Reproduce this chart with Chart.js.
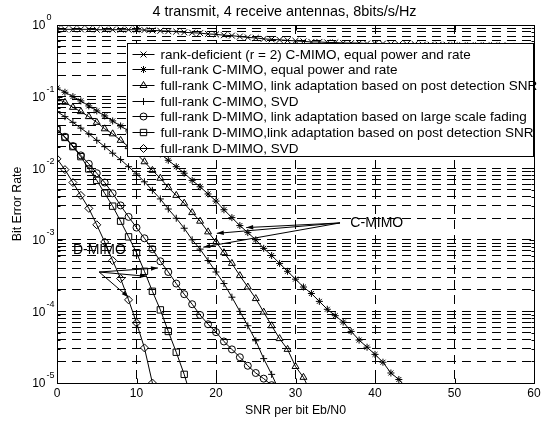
<!DOCTYPE html>
<html>
<head>
<meta charset="utf-8">
<script src="https://cdn.jsdelivr.net/npm/chart.js@4.4.1/dist/chart.umd.min.js"></script>
<style>
  html, body { margin: 0; padding: 0; background: #fff; }
  canvas { display: block; }
</style>
</head>
<body>
<canvas id="chart" width="547" height="421"></canvas>
<script>
// SNR grid (dB), one simulated point per dB
const snrDb = [0, 1, 2, 3, 4, 5, 6, 7, 8, 9, 10, 11, 12, 13, 14, 15, 16, 17, 18, 19, 20,
  21, 22, 23, 24, 25, 26, 27, 28, 29, 30, 31, 32, 33, 34, 35, 36, 37, 38, 39, 40,
  41, 42, 43, 44, 45, 46, 47, 48, 49, 50, 51, 52, 53, 54, 55, 56, 57, 58, 59, 60];

// BER, indexed like snrDb
const berRankDeficient = [0.87, 0.87, 0.87, 0.87, 0.87, 0.86, 0.86, 0.86, 0.86, 0.86,
  0.86, 0.85, 0.84, 0.83, 0.82, 0.81, 0.79, 0.78, 0.77, 0.75,
  0.74, 0.72, 0.71, 0.69, 0.67, 0.66, 0.64, 0.63, 0.62, 0.61,
  0.60, 0.59, 0.58, 0.58, 0.57, 0.57, 0.56, 0.56, 0.56, 0.55,
  0.55, 0.55, 0.54, 0.54, 0.54, 0.54, 0.53, 0.53, 0.53, 0.53,
  0.52, 0.52, 0.52, 0.52, 0.52, 0.52, 0.52, 0.51, 0.51, 0.51, 0.51];
const berCEqual = [1.32e-1, 1.15e-1, 1.0e-1, 8.71e-2, 7.41e-2, 6.31e-2, 5.37e-2, 4.57e-2, 3.89e-2, 3.31e-2,
  2.82e-2, 2.34e-2, 1.95e-2, 1.58e-2, 1.29e-2, 1.05e-2, 8.51e-3, 6.76e-3, 5.50e-3, 4.37e-3,
  3.47e-3, 2.63e-3, 2.04e-3, 1.58e-3, 1.26e-3, 1.0e-3, 7.59e-4, 6.03e-4, 4.68e-4, 3.63e-4,
  2.82e-4, 2.19e-4, 1.78e-4, 1.38e-4, 1.07e-4, 8.71e-5, 7.08e-5, 5.25e-5, 3.98e-5, 3.16e-5,
  2.51e-5, 1.95e-5, 1.38e-5, 1.12e-5, 8.51e-6];
const berCPostDet = [9.33e-2, 8.32e-2, 7.08e-2, 6.17e-2, 5.25e-2, 4.37e-2, 3.55e-2, 3.02e-2, 2.45e-2, 2.0e-2,
  1.58e-2, 1.23e-2, 9.33e-3, 7.24e-3, 5.37e-3, 4.17e-3, 3.24e-3, 2.40e-3, 1.82e-3, 1.29e-3,
  9.33e-4, 6.61e-4, 4.68e-4, 3.16e-4, 2.19e-4, 1.51e-4, 9.77e-5, 6.31e-5, 4.17e-5, 2.95e-5,
  1.70e-5, 1.20e-5, 7.08e-6];
const berCSvd = [6.17e-2, 5.25e-2, 4.37e-2, 3.63e-2, 3.02e-2, 2.45e-2, 2.0e-2, 1.62e-2, 1.32e-2, 1.05e-2,
  8.32e-3, 6.46e-3, 4.90e-3, 3.72e-3, 2.69e-3, 2.0e-3, 1.45e-3, 1.0e-3, 7.41e-4, 5.13e-4,
  3.55e-4, 2.45e-4, 1.58e-4, 1.0e-4, 6.31e-5, 3.89e-5, 2.19e-5, 1.32e-5, 7.59e-6];
const berDLargeScale = [3.47e-2, 2.75e-2, 2.04e-2, 1.51e-2, 1.15e-2, 8.51e-3, 6.31e-3, 4.47e-3, 3.02e-3, 2.09e-3,
  1.48e-3, 1.05e-3, 7.41e-4, 5.01e-4, 3.55e-4, 2.45e-4, 1.74e-4, 1.26e-4, 8.91e-5, 6.61e-5,
  5.13e-5, 3.80e-5, 2.95e-5, 2.29e-5, 1.74e-5, 1.38e-5, 1.15e-5, 9.33e-6];
const berDPostDet = [3.47e-2, 2.69e-2, 2.0e-2, 1.45e-2, 9.77e-3, 6.76e-3, 4.47e-3, 2.95e-3, 1.82e-3, 1.10e-3,
  6.61e-4, 3.63e-4, 1.91e-4, 1.05e-4, 5.25e-5, 2.69e-5, 1.32e-5, 5.62e-6];
const berDSvd = [1.35e-2, 9.55e-3, 6.31e-3, 4.17e-3, 2.75e-3, 1.62e-3, 9.33e-4, 5.13e-4, 2.88e-4, 1.45e-4,
  6.92e-5, 3.09e-5, 1.0e-5];

const seriesLabels = [
  'rank-deficient (r = 2) C-MIMO, equal power and rate',
  'full-rank C-MIMO, equal power and rate',
  'full-rank C-MIMO, link adaptation based on post detection SNR',
  'full-rank C-MIMO, SVD',
  'full-rank D-MIMO, link adaptation based on large scale fading',
  'full-rank D-MIMO,link adaptation based on post detection SNR',
  'full-rank D-MIMO, SVD'
];

const chartTitle = '4 transmit, 4 receive antennas, 8bits/s/Hz';
const xTicks = [0, 10, 20, 30, 40, 50, 60];
const yDecades = [0, -1, -2, -3, -4, -5];

// text callouts, in data coordinates
const cmimoText = { x: 36.9, y: 1.72e-3 };
const cmimoTail = { x: 35.6, y: 1.72e-3 };
const cmimoHeads = [{ x: 23.8, y: 1.48e-3 }, { x: 20.1, y: 1.23e-3 }, { x: 18.4, y: 7.9e-4 }];
const dmimoText = { x: 2.0, y: 7.08e-4 };
const dmimoTail = { x: 5.3, y: 3.55e-4 };
const dmimoHeads = [{ x: 12.7, y: 4.04e-4 }, { x: 11.3, y: 3.09e-4 }, { x: 9.0, y: 1.58e-4 }];

const FONT = "'Liberation Sans', Arial, Helvetica, sans-serif";
Chart.defaults.font.family = FONT;
Chart.defaults.font.size = 12;
Chart.defaults.color = '#000';

const toPoints = (ber) => ber.map((v, i) => ({ x: snrDb[i], y: v }));

const series = (idx, ber, pointStyle, radius) => ({
  label: seriesLabels[idx],
  data: toPoints(ber),
  borderColor: '#000',
  borderWidth: 1,
  tension: 0,
  pointStyle: pointStyle,
  pointRadius: radius,
  pointBorderWidth: 1,
  pointBorderColor: '#000',
  pointBackgroundColor: 'rgba(0,0,0,0)'
});

// all the 1..9 x 10^n positions for the log grid
const logGrid = [];
yDecades.forEach(e => {
  for (let m = 1; m <= 9; m++) {
    const v = m * Math.pow(10, e);
    if (v <= 1) logGrid.push(v);
  }
});
const isDecade = v => Math.abs(Math.log10(v) - Math.round(Math.log10(v))) < 1e-6;

function drawArrow(ctx, x0, y0, x1, y1) {
  ctx.beginPath();
  ctx.moveTo(x0, y0);
  ctx.lineTo(x1, y1);
  ctx.stroke();
  const ang = Math.atan2(y1 - y0, x1 - x0);
  const len = 7, half = 2.2;
  const bx = x1 - len * Math.cos(ang), by = y1 - len * Math.sin(ang);
  ctx.beginPath();
  ctx.moveTo(x1, y1);
  ctx.lineTo(bx + half * Math.sin(ang), by - half * Math.cos(ang));
  ctx.lineTo(bx - half * Math.sin(ang), by + half * Math.cos(ang));
  ctx.closePath();
  ctx.fill();
}

const matlabLook = {
  id: 'matlabLook',
  afterDatasetsDraw(chart) {
    const { ctx, scales: { x, y } } = chart;
    ctx.save();
    ctx.strokeStyle = '#000';
    ctx.fillStyle = '#000';
    ctx.lineWidth = 1;
    const px = p => [x.getPixelForValue(p.x), y.getPixelForValue(p.y)];
    [[cmimoTail, cmimoHeads], [dmimoTail, dmimoHeads]].forEach(([tail, heads]) => {
      const [tx, ty] = px(tail);
      heads.forEach(h => {
        const [hx, hy] = px(h);
        drawArrow(ctx, tx, ty, hx, hy);
      });
    });
    ctx.font = '14px ' + FONT;
    ctx.textAlign = 'left';
    ctx.textBaseline = 'middle';
    [[cmimoText, 'C-MIMO'], [dmimoText, 'D-MIMO']].forEach(([p, t]) => {
      const [tx, ty] = px(p);
      ctx.fillText(t, tx, ty);
    });
    ctx.restore();
  },
  afterDraw(chart) {
    const { ctx, chartArea: a, scales: { x, y } } = chart;
    ctx.save();
    ctx.strokeStyle = '#000';
    ctx.fillStyle = '#000';
    ctx.lineWidth = 1;
    const L = Math.round(a.left) + 0.5, R = Math.round(a.right) + 0.5;
    const T = Math.round(a.top) + 0.5, B = Math.round(a.bottom) + 0.5;

    // title, centred a little left of the axes middle as in the figure
    ctx.font = '14.4px ' + FONT;
    ctx.textAlign = 'center';
    ctx.textBaseline = 'middle';
    ctx.fillText(chartTitle, (a.left + a.right) / 2 - 11, 12);

    // inward ticks on all four sides
    ctx.beginPath();
    xTicks.forEach(v => {
      const xp = Math.round(x.getPixelForValue(v)) + 0.5;
      ctx.moveTo(xp, B); ctx.lineTo(xp, B - 5);
      ctx.moveTo(xp, T); ctx.lineTo(xp, T + 5);
    });
    logGrid.forEach(v => {
      const yp = Math.round(y.getPixelForValue(v)) + 0.5;
      const len = isDecade(v) ? 5 : 3;
      ctx.moveTo(L, yp); ctx.lineTo(L + len, yp);
      ctx.moveTo(R, yp); ctx.lineTo(R - len, yp);
    });
    ctx.stroke();

    // y tick labels as 10 with a raised exponent
    yDecades.forEach(e => {
      const yp = y.getPixelForValue(Math.pow(10, e));
      ctx.font = '12px ' + FONT;
      ctx.textAlign = 'right';
      ctx.textBaseline = 'middle';
      ctx.fillText('10', a.left - 11.5, yp + 1);
      ctx.font = '9px ' + FONT;
      ctx.textAlign = 'left';
      ctx.fillText(String(e), a.left - 10.5, yp - 7);
    });

    // legend box in the upper right of the axes
    const lx = Math.round(a.right) - 407 + 0.5, ly = Math.round(a.top) + 18 + 0.5;
    const lw = 406, lh = 113;
    ctx.fillStyle = '#fff';
    ctx.fillRect(lx, ly, lw, lh);
    ctx.strokeRect(lx, ly, lw, lh);
    ctx.font = '13.5px ' + FONT;
    ctx.textAlign = 'left';
    ctx.textBaseline = 'middle';
    chart.data.datasets.forEach((ds, i) => {
      const ry = Math.round(ly + 10 + i * 15.67) + 0.5;
      ctx.beginPath();
      ctx.moveTo(lx + 5, ry); ctx.lineTo(lx + 27, ry);
      ctx.stroke();
      ctx.fillStyle = 'rgba(0,0,0,0)';
      Chart.helpers.drawPoint(ctx, {
        pointStyle: ds.pointStyle, radius: ds.pointRadius, borderWidth: 1, rotation: 0
      }, lx + 16, ry);
      ctx.fillStyle = '#000';
      ctx.fillText(ds.label, lx + 33, ry + 0.5);
    });

    // axes box
    ctx.strokeRect(L, T, R - L, B - T);
    ctx.restore();
  }
};

new Chart(document.getElementById('chart'), {
  type: 'line',
  data: {
    datasets: [
      series(0, berRankDeficient, 'crossRot', 4.2),
      series(1, berCEqual, 'star', 3.5),
      series(2, berCPostDet, 'triangle', 4),
      series(3, berCSvd, 'cross', 3.5),
      series(4, berDLargeScale, 'circle', 3.5),
      series(5, berDPostDet, 'rect', 4.5),
      series(6, berDSvd, 'rectRot', 4)
    ]
  },
  options: {
    responsive: false,
    animation: false,
    events: [],
    devicePixelRatio: 1,
    layout: { padding: { left: 0, right: 13, top: 25, bottom: 0 } },
    plugins: {
      legend: { display: false },
      tooltip: { enabled: false },
      title: { display: false }
    },
    scales: {
      x: {
        type: 'linear',
        min: 0,
        max: 60,
        afterBuildTicks: s => { s.ticks = xTicks.map(v => ({ value: v })); },
        afterFit: s => { s.height = 38; },
        ticks: { padding: 3, autoSkip: false, maxRotation: 0 },
        grid: {
          drawTicks: false,
          lineWidth: 1,
          color: c => (c.tick && (c.tick.value === 0 || c.tick.value === 60)) ? 'rgba(0,0,0,0)' : '#000'
        },
        border: { display: false, dash: [9, 6] },
        title: { display: true, text: 'SNR per bit Eb/N0', font: { size: 12.3 }, padding: { top: 0, bottom: 3 } }
      },
      y: {
        type: 'logarithmic',
        min: 1e-5,
        max: 1,
        afterBuildTicks: s => { s.ticks = logGrid.map(v => ({ value: v, major: isDecade(v) })); },
        afterFit: s => { s.width = 57; },
        ticks: { display: false, autoSkip: false },
        grid: {
          drawTicks: false,
          lineWidth: 1,
          color: c => (c.tick && (c.tick.value <= 1e-5 * 1.001 || c.tick.value >= 0.999)) ? 'rgba(0,0,0,0)' : '#000'
        },
        border: { display: false, dash: [9, 6] },
        title: { display: true, text: 'Bit Error Rate', font: { size: 12.3 }, padding: { top: 10, bottom: 0 } }
      }
    }
  },
  plugins: [matlabLook]
});
</script>
</body>
</html>
